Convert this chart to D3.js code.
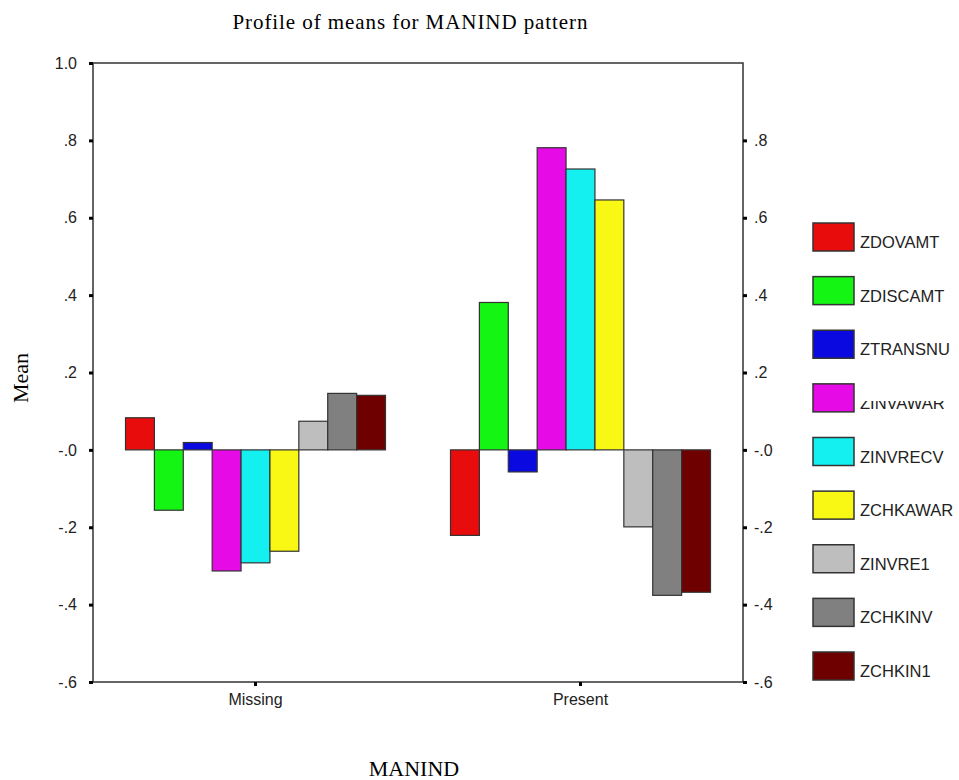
<!DOCTYPE html>
<html>
<head>
<meta charset="utf-8">
<script src="https://cdn.jsdelivr.net/npm/d3@7"></script>
<style>
  body { margin: 0; background: #fff; }
  .axis path { display: none; }
  .axis line { stroke: #000; stroke-width: 3; }
  .axis text { font-family: "Liberation Sans", Arial, sans-serif; font-size: 16px; fill: #222; }
</style>
</head>
<body>
<svg id="chart" width="959" height="780"></svg>
<script>
const groups = ["Missing", "Present"];
const series = ["ZDOVAMT", "ZDISCAMT", "ZTRANSNU", "ZINVAWAR", "ZINVRECV", "ZCHKAWAR", "ZINVRE1", "ZCHKINV", "ZCHKIN1"];
const missingValues = [0.083, -0.156, 0.019, -0.313, -0.292, -0.262, 0.074, 0.146, 0.141];
const presentValues = [-0.221, 0.381, -0.057, 0.781, 0.726, 0.646, -0.199, -0.376, -0.368];
const colors = ["#e80c0c", "#14f514", "#0a0ae0", "#e60ae6", "#14f0f0", "#f8f814", "#bebebe", "#808080", "#6e0000"];
const leftTickValues = [1.0, 0.8, 0.6, 0.4, 0.2, 0, -0.2, -0.4, -0.6];
const leftTickLabels = ["1.0", ".8", ".6", ".4", ".2", "-.0", "-.2", "-.4", "-.6"];
const rightTickValues = [0.8, 0.6, 0.4, 0.2, 0, -0.2, -0.4, -0.6];
const rightTickLabels = [".8", ".6", ".4", ".2", "-.0", "-.2", "-.4", "-.6"];

const values = { Missing: missingValues, Present: presentValues };

const svg = d3.select("#chart");
const margin = { top: 63, left: 93, right: 743, bottom: 682 };

const x0 = d3.scaleBand().domain(groups).range([margin.left, margin.right])
  .paddingInner(0.2).paddingOuter(0.1);
const x1 = d3.scaleBand().domain(series).range([0, x0.bandwidth()]);
const y = d3.scaleLinear().domain([-0.6, 1.0]).range([margin.bottom, margin.top]);
const color = d3.scaleOrdinal().domain(series).range(colors);

// bars
groups.forEach(g => {
  svg.append("g")
    .selectAll("rect")
    .data(series.map((s, i) => ({ s, v: values[g][i] })))
    .join("rect")
    .attr("x", d => x0(g) + x1(d.s))
    .attr("y", d => y(Math.max(0, d.v)))
    .attr("width", x1.bandwidth())
    .attr("height", d => Math.abs(y(d.v) - y(0)))
    .attr("fill", d => color(d.s))
    .attr("stroke", "#333")
    .attr("stroke-width", 1.2);
});

// frame
svg.append("rect")
  .attr("x", margin.left).attr("y", margin.top)
  .attr("width", margin.right - margin.left)
  .attr("height", margin.bottom - margin.top)
  .attr("fill", "none").attr("stroke", "#333").attr("stroke-width", 1.5);

// axes
svg.append("g").attr("class", "axis")
  .attr("transform", `translate(${margin.left},0)`)
  .call(d3.axisLeft(y).tickValues(leftTickValues).tickSize(4).tickPadding(12)
    .tickFormat((d, i) => leftTickLabels[i]));

svg.append("g").attr("class", "axis")
  .attr("transform", `translate(${margin.right},0)`)
  .call(d3.axisRight(y).tickValues(rightTickValues).tickSize(4).tickPadding(7)
    .tickFormat((d, i) => rightTickLabels[i]));

svg.append("g").attr("class", "axis")
  .attr("transform", `translate(0,${margin.bottom})`)
  .call(d3.axisBottom(x0).tickSize(4).tickPadding(8));

// titles
svg.append("text")
  .attr("x", 410).attr("y", 29)
  .attr("text-anchor", "middle")
  .attr("font-family", "'Liberation Serif', 'Times New Roman', serif")
  .attr("font-size", 21)
  .attr("textLength", 355)
  .text("Profile of means for MANIND pattern");

svg.append("text")
  .attr("x", 414).attr("y", 776)
  .attr("text-anchor", "middle")
  .attr("font-family", "'Liberation Serif', 'Times New Roman', serif")
  .attr("font-size", 22)
  .text("MANIND");

svg.append("text")
  .attr("transform", "translate(28,378) rotate(-90)")
  .attr("text-anchor", "middle")
  .attr("font-family", "'Liberation Serif', 'Times New Roman', serif")
  .attr("font-size", 22)
  .text("Mean");

// legend
const legendY = d3.scalePoint().domain(series).range([223, 652]);
const legend = svg.append("g");

legend.append("defs").selectAll("clipPath")
  .data(series)
  .join("clipPath")
  .attr("id", (d, i) => "lc" + i)
  .append("rect")
  .attr("x", 855).attr("width", 110)
  .attr("y", d => legendY(d) + (d === "ZINVAWAR" ? 17 : d === "ZCHKIN1" ? 12 : 0))
  .attr("height", 40);

const item = legend.selectAll("g.item")
  .data(series)
  .join("g")
  .attr("class", "item");

item.append("rect")
  .attr("x", 813).attr("y", d => legendY(d))
  .attr("width", 41).attr("height", 28)
  .attr("fill", d => color(d))
  .attr("stroke", "#333").attr("stroke-width", 1.5);

item.append("text")
  .attr("x", 860).attr("y", d => legendY(d) + 25)
  .attr("clip-path", (d, i) => `url(#lc${i})`)
  .attr("font-family", "'Liberation Sans', Arial, sans-serif")
  .attr("font-size", 16.5)
  .attr("fill", "#222")
  .text(d => d);
</script>
</body>
</html>
